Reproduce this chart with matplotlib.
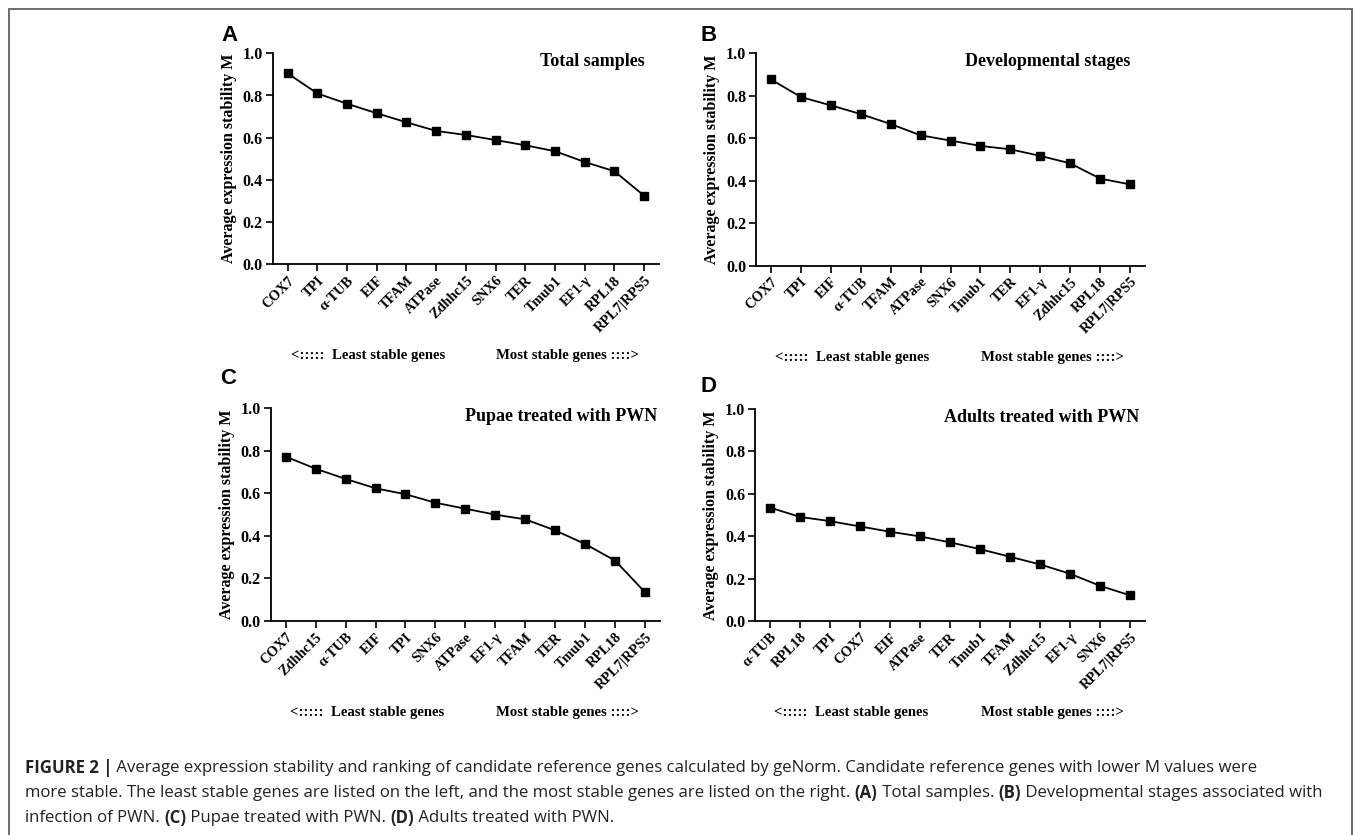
import matplotlib
matplotlib.use('Agg')
import matplotlib.pyplot as plt
from matplotlib.patches import Rectangle

# gene order and M values
genes_a = ['COX7', 'TPI', 'α-TUB', 'EIF', 'TFAM', 'ATPase', 'Zdhhc15', 'SNX6', 'TER', 'Tmub1', 'EF1-γ', 'RPL18', 'RPL7|RPS5']
m_a = [0.905, 0.810, 0.761, 0.716, 0.673, 0.632, 0.613, 0.589, 0.564, 0.536, 0.485, 0.441, 0.325]

genes_b = ['COX7', 'TPI', 'EIF', 'α-TUB', 'TFAM', 'ATPase', 'SNX6', 'Tmub1', 'TER', 'EF1-γ', 'Zdhhc15', 'RPL18', 'RPL7|RPS5']
m_b = [0.877, 0.794, 0.755, 0.714, 0.667, 0.614, 0.589, 0.564, 0.548, 0.517, 0.482, 0.410, 0.383]

genes_c = ['COX7', 'Zdhhc15', 'α-TUB', 'EIF', 'TPI', 'SNX6', 'ATPase', 'EF1-γ', 'TFAM', 'TER', 'Tmub1', 'RPL18', 'RPL7|RPS5']
m_c = [0.773, 0.716, 0.668, 0.624, 0.596, 0.556, 0.528, 0.500, 0.478, 0.426, 0.362, 0.284, 0.135]

genes_d = ['α-TUB', 'RPL18', 'TPI', 'COX7', 'EIF', 'ATPase', 'TER', 'Tmub1', 'TFAM', 'Zdhhc15', 'EF1-γ', 'SNX6', 'RPL7|RPS5']
m_d = [0.535, 0.491, 0.471, 0.446, 0.421, 0.399, 0.371, 0.339, 0.303, 0.267, 0.223, 0.166, 0.121]

titles = ['Total samples', 'Developmental stages', 'Pupae treated with PWN', 'Adults treated with PWN']
letters = ['A', 'B', 'C', 'D']
yticks = [0.0, 0.2, 0.4, 0.6, 0.8, 1.0]

serif = 'Liberation Serif'
sans = 'Liberation Sans'

W, H = 1355, 835
fig = plt.figure(figsize=(W / 100, H / 100), dpi=100)


def px_box(left, right, top, bottom):
    return [left / W, 1 - bottom / H, (right - left) / W, (bottom - top) / H]


boxes = [
    px_box(272.7, 659, 53.3, 264.3),
    px_box(756, 1145, 53.3, 265.7),
    px_box(270.7, 660, 408.3, 621),
    px_box(755, 1145, 409, 621),
]
letter_px = [(221, 35.5), (700, 35.5), (220, 379), (701, 386)]
title_x = [0.962, 0.963, 0.992, 0.985]

panels = [(genes_a, m_a), (genes_b, m_b), (genes_c, m_c), (genes_d, m_d)]

for i, (genes, vals) in enumerate(panels):
    ax = fig.add_axes(boxes[i])
    x = list(range(len(genes)))
    ax.plot(x, vals, color='black', lw=1.3, marker='s', ms=5.5)
    ax.set_xlim(-0.5, len(genes) - 0.5)
    ax.set_ylim(0, 1.0)
    ax.set_yticks(yticks)
    ax.set_yticklabels(['%.1f' % t for t in yticks], fontfamily=serif,
                       fontweight='bold', fontsize=11.5)
    ax.set_xticks(x)
    ax.set_xticklabels(genes, rotation=45, ha='right', rotation_mode='anchor',
                       fontfamily=serif, fontweight='bold', fontsize=10.3)
    ax.tick_params(axis='both', direction='out', length=5, width=1.2, pad=2)
    ax.spines['top'].set_visible(False)
    ax.spines['right'].set_visible(False)
    ax.spines['left'].set_linewidth(1.3)
    ax.spines['bottom'].set_linewidth(1.3)
    ax.set_ylabel('Average expression stability M', fontfamily=serif,
                  fontweight='bold', fontsize=11.5, labelpad=4)
    ax.text(title_x[i], 0.962, titles[i], transform=ax.transAxes, ha='right',
            va='center', fontfamily=serif, fontweight='bold', fontsize=13)
    ax.text(0.247, -0.43, '<:::::  Least stable genes', transform=ax.transAxes,
            ha='center', va='center', fontfamily=serif, fontweight='bold', fontsize=10.6)
    ax.text(0.762, -0.43, 'Most stable genes ::::>', transform=ax.transAxes,
            ha='center', va='center', fontfamily=serif, fontweight='bold', fontsize=10.6)
    fig.text(letter_px[i][0] / W, 1 - letter_px[i][1] / H, letters[i], ha='left',
             va='center', fontfamily=sans, fontweight='bold', fontsize=16)

# frame round the figure (bottom edge falls outside the picture)
fig.patches.append(Rectangle((9 / W, -0.02), (1352 - 9) / W, 1.02 - 9 / H,
                             transform=fig.transFigure, fill=False,
                             edgecolor='#555555', lw=1.2))

# caption, drawn piece by piece so some words can be bold
caption = [
    [('FIGURE 2 |', 'bold'), (' Average expression stability and ranking of candidate reference genes calculated by geNorm. Candidate reference genes with lower M values were', 'normal')],
    [('more stable. The least stable genes are listed on the left, and the most stable genes are listed on the right. ', 'normal'), ('(A)', 'bold'),
     (' Total samples. ', 'normal'), ('(B)', 'bold'), (' Developmental stages associated with', 'normal')],
    [('infection of PWN. ', 'normal'), ('(C)', 'bold'), (' Pupae treated with PWN. ', 'normal'), ('(D)', 'bold'),
     (' Adults treated with PWN.', 'normal')],
]
cap_y = [768, 793, 818]

renderer = fig.canvas.get_renderer()
for line, ypx in zip(caption, cap_y):
    xpx = 25
    for txt, wt in line:
        t = fig.text(xpx / W, 1 - ypx / H, txt, ha='left', va='center',
                     fontfamily='Open Sans', fontweight=wt, fontsize=12.1,
                     color='#222222')
        xpx += t.get_window_extent(renderer=renderer).width

fig.savefig('out.png', dpi=100)
